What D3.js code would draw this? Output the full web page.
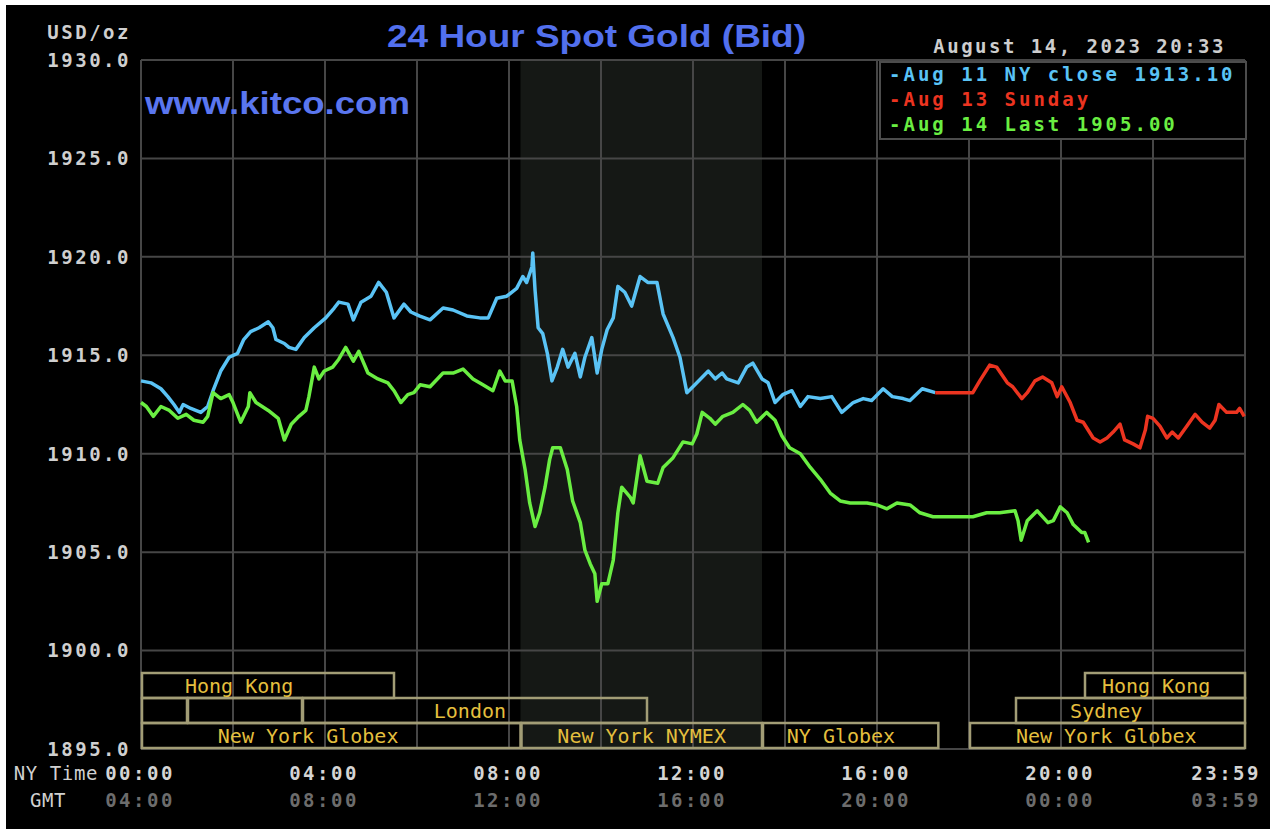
<!DOCTYPE html>
<html><head><meta charset="utf-8">
<script src="https://cdn.jsdelivr.net/npm/d3@7"></script>
<style>html,body{margin:0;padding:0;background:#fff;}svg{display:block;}</style>
</head><body><svg id="c" width="1276" height="838"></svg>
<script>
// ---------- data ----------
const yTicks = [1895, 1900, 1905, 1910, 1915, 1920, 1925, 1930];
const xGridMinutes = [0, 120, 240, 360, 480, 600, 720, 840, 960, 1080, 1200, 1320, 1440];
const labelMinutes = [0, 240, 480, 720, 960, 1200, 1439];
const nyTimeLabels = ["00:00", "04:00", "08:00", "12:00", "16:00", "20:00", "23:59"];
const gmtLabels = ["04:00", "08:00", "12:00", "16:00", "20:00", "00:00", "03:59"];

// [minutes since NY midnight, USD/oz]
const aug11 = [[0,1913.7],[13,1913.6],[26,1913.3],[35,1912.9],[43,1912.5],[50,1912.1],[55,1912.5],[65,1912.3],[78,1912.1],[87,1912.4],[94,1913.2],[104,1914.2],[115,1914.9],[126,1915.1],[134,1915.8],[143,1916.2],[154,1916.4],[166,1916.7],[172,1916.4],[176,1915.8],[187,1915.6],[193,1915.4],[202,1915.3],[213,1915.9],[226,1916.4],[241,1916.9],[252,1917.4],[258,1917.7],[270,1917.6],[277,1916.8],[287,1917.7],[300,1918.0],[310,1918.7],[320,1918.2],[330,1916.9],[343,1917.6],[352,1917.2],[363,1917.0],[377,1916.8],[394,1917.4],[407,1917.3],[425,1917.0],[442,1916.9],[453,1916.9],[464,1917.9],[477,1918.0],[490,1918.4],[498,1919.0],[503,1918.7],[510,1919.5],[511,1920.2],[514,1918.3],[518,1916.4],[524,1916.1],[530,1915.1],[536,1913.7],[543,1914.4],[550,1915.3],[557,1914.4],[566,1915.1],[573,1913.9],[579,1914.9],[588,1915.9],[595,1914.1],[601,1915.3],[608,1916.3],[616,1916.9],[622,1918.5],[631,1918.2],[640,1917.5],[651,1919.0],[661,1918.7],[673,1918.7],[681,1917.1],[694,1915.9],[703,1914.9],[712,1913.1],[725,1913.6],[740,1914.2],[749,1913.8],[758,1914.1],[764,1913.8],[779,1913.6],[790,1914.4],[798,1914.6],[810,1913.8],[818,1913.6],[827,1912.6],[837,1913.0],[849,1913.2],[860,1912.4],[870,1912.9],[886,1912.8],[901,1912.9],[914,1912.1],[929,1912.6],[942,1912.8],[953,1912.7],[968,1913.3],[980,1912.9],[994,1912.8],[1003,1912.7],[1019,1913.3],[1036,1913.1]];

const aug13 = [[1036,1913.1],[1085,1913.1],[1094,1913.7],[1107,1914.5],[1116,1914.4],[1130,1913.6],[1137,1913.4],[1149,1912.8],[1156,1913.1],[1166,1913.7],[1176,1913.9],[1188,1913.6],[1195,1912.9],[1201,1913.4],[1212,1912.6],[1221,1911.7],[1229,1911.6],[1242,1910.8],[1251,1910.6],[1260,1910.8],[1268,1911.1],[1277,1911.5],[1283,1910.7],[1294,1910.5],[1303,1910.3],[1310,1911.2],[1313,1911.9],[1320,1911.8],[1329,1911.4],[1338,1910.8],[1345,1911.1],[1353,1910.8],[1364,1911.4],[1375,1912.0],[1384,1911.6],[1394,1911.3],[1401,1911.7],[1406,1912.5],[1416,1912.1],[1429,1912.1],[1433,1912.3],[1439,1911.9]];

const aug14 = [[0,1912.6],[7,1912.4],[16,1911.9],[26,1912.4],[37,1912.2],[48,1911.8],[59,1912.0],[69,1911.7],[81,1911.6],[87,1911.9],[94,1913.1],[104,1912.8],[115,1913.0],[120,1912.6],[130,1911.6],[140,1912.4],[142,1913.1],[150,1912.6],[166,1912.2],[179,1911.8],[187,1910.7],[196,1911.5],[206,1911.9],[215,1912.2],[219,1912.9],[226,1914.4],[232,1913.8],[239,1914.2],[250,1914.4],[258,1914.8],[267,1915.4],[277,1914.7],[284,1915.2],[296,1914.1],[309,1913.8],[322,1913.6],[330,1913.2],[339,1912.6],[348,1913.0],[356,1913.1],[364,1913.5],[377,1913.4],[394,1914.1],[407,1914.1],[420,1914.3],[433,1913.8],[446,1913.5],[459,1913.2],[468,1914.2],[475,1913.7],[484,1913.7],[490,1912.4],[494,1910.7],[501,1909.2],[507,1907.5],[514,1906.3],[520,1907.0],[527,1908.3],[533,1909.7],[537,1910.3],[547,1910.3],[556,1909.2],[563,1907.6],[573,1906.5],[579,1905.1],[586,1904.4],[592,1903.9],[595,1902.5],[601,1903.4],[609,1903.4],[616,1904.6],[622,1907.0],[627,1908.3],[638,1907.8],[642,1907.5],[651,1909.9],[660,1908.6],[674,1908.5],[681,1909.3],[694,1909.8],[707,1910.6],[719,1910.5],[725,1911.0],[732,1912.1],[742,1911.8],[749,1911.5],[759,1911.9],[772,1912.1],[785,1912.5],[794,1912.2],[803,1911.6],[816,1912.1],[827,1911.7],[836,1910.9],[846,1910.3],[860,1910.0],[873,1909.3],[886,1908.7],[899,1908.0],[912,1907.6],[925,1907.5],[947,1907.5],[960,1907.4],[973,1907.2],[986,1907.5],[1003,1907.4],[1016,1907.0],[1033,1906.8],[1085,1906.8],[1103,1907.0],[1120,1907.0],[1140,1907.1],[1144,1906.6],[1148,1905.6],[1156,1906.6],[1169,1907.1],[1183,1906.5],[1190,1906.6],[1199,1907.3],[1208,1907.0],[1216,1906.4],[1227,1906.0],[1231,1906.0],[1236,1905.5]];

const legendLabels = ["Aug 11 NY close 1913.10", "Aug 13 Sunday", "Aug 14 Last 1905.00"];
const nymexSession = [495, 810];
// session boxes: row, start minute, end minute, label, label centre minute
const sessionRows = [0, 0, 1, 1, 1, 1, 2, 2, 2, 2];
const sessionStarts = [0, 1230, 0, 60, 210, 1140, 0, 495, 810, 1080];
const sessionEnds = [330, 1440, 60, 210, 660, 1440, 495, 810, 1040, 1440];
const sessionLabels = ["Hong Kong", "Hong Kong", "", "", "London", "Sydney", "New York Globex", "New York NYMEX", "NY Globex", "New York Globex"];
const sessionLabelAt = [128, 1324, 0, 0, 429, 1259, 218, 653, 913, 1259];

// ---------- drawing ----------
const svg = d3.select("#c");
const MONO = "'DejaVu Sans Mono', 'Liberation Mono', monospace";
const SANS = "'Liberation Sans', Arial, sans-serif";
const x = d3.scaleLinear().domain([0, 1440]).range([141, 1245]);
const y = d3.scaleLinear().domain([1895, 1930]).range([749, 60]);

svg.append("rect").attr("x", 6).attr("y", 5).attr("width", 1264).attr("height", 824).attr("fill", "#000");

// NYMEX shading
svg.append("rect").attr("x", x(nymexSession[0])).attr("y", y(1930))
  .attr("width", x(nymexSession[1]) - x(nymexSession[0])).attr("height", y(1895) - y(1930))
  .attr("fill", "#151815");

// grid
const grid = svg.append("g").attr("stroke", "#464646").attr("stroke-width", 2);
grid.selectAll("line.h").data(yTicks).join("line").attr("class", "h")
  .attr("x1", x(0)).attr("x2", x(1440)).attr("y1", d => y(d)).attr("y2", d => y(d));
grid.selectAll("line.v").data(xGridMinutes).join("line").attr("class", "v")
  .attr("x1", d => x(d)).attr("x2", d => x(d)).attr("y1", y(1930)).attr("y2", y(1895));

// y labels
svg.append("g").selectAll("text").data(yTicks).join("text")
  .attr("x", 131).attr("y", d => y(d)).attr("dy", "0.36em").attr("text-anchor", "end")
  .attr("font-family", MONO).attr("font-weight", "bold").attr("font-size", 19)
  .attr("letter-spacing", 2.5).attr("fill", "#cfcfcf")
  .text(d => d3.format(".1f")(d));
svg.append("text").attr("x", 131).attr("y", 32).attr("dy", "0.36em").attr("text-anchor", "end")
  .attr("font-family", MONO).attr("font-weight", "bold").attr("font-size", 19)
  .attr("letter-spacing", 2.5).attr("fill", "#cfcfcf").text("USD/oz");

// x labels
const xl = svg.append("g").attr("font-family", MONO).attr("font-weight", "bold").attr("font-size", 19).attr("letter-spacing", 2.5);
xl.selectAll("text.ny").data(nyTimeLabels).join("text").attr("class", "ny")
  .attr("x", (d, i) => i === nyTimeLabels.length - 1 ? 1261 : x(labelMinutes[i]) - 1)
  .attr("text-anchor", (d, i) => i === nyTimeLabels.length - 1 ? "end" : "middle")
  .attr("y", 773).attr("dy", "0.36em").attr("fill", "#d4d4d4").text(d => d);
xl.selectAll("text.gmt").data(gmtLabels).join("text").attr("class", "gmt")
  .attr("x", (d, i) => i === gmtLabels.length - 1 ? 1261 : x(labelMinutes[i]) - 1)
  .attr("text-anchor", (d, i) => i === gmtLabels.length - 1 ? "end" : "middle")
  .attr("y", 800).attr("dy", "0.36em").attr("fill", "#6c6c6c").text(d => d);
svg.append("text").attr("x", 98).attr("y", 773).attr("dy", "0.36em").attr("text-anchor", "end")
  .attr("font-family", MONO).attr("font-size", 19).attr("letter-spacing", 0.6).attr("fill", "#d0d0d0").text("NY Time");
svg.append("text").attr("x", 48).attr("y", 800).attr("dy", "0.36em").attr("text-anchor", "middle")
  .attr("font-family", MONO).attr("font-size", 19).attr("letter-spacing", 0.6).attr("fill", "#d0d0d0").text("GMT");

// session boxes
const rowTop = [673, 698, 723], rowH = 25;
const sb = svg.append("g");
sb.selectAll("rect").data(sessionStarts).join("rect")
  .attr("x", (d) => x(d) + 1).attr("y", (d, i) => rowTop[sessionRows[i]])
  .attr("width", (d, i) => x(sessionEnds[i]) - x(d) - 1).attr("height", rowH)
  .attr("fill", "none").attr("stroke", "#a29d76").attr("stroke-width", 2.5);
sb.selectAll("text").data(sessionLabels).join("text")
  .attr("x", (d, i) => x(sessionLabelAt[i])).attr("y", (d, i) => rowTop[sessionRows[i]] + rowH / 2)
  .attr("dy", "0.36em").attr("text-anchor", "middle")
  .attr("font-family", MONO).attr("font-size", 20).attr("fill", "#e4bf3e").text(d => d);

// lines
const line = d3.line().x(d => x(d[0])).y(d => y(d[1]));
const seriesData = [aug11, aug14, aug13];
const seriesColors = ["#5ac3f5", "#6aee42", "#ec3420"];
svg.append("g").selectAll("path").data(seriesData).join("path")
  .attr("d", line).attr("fill", "none").attr("stroke", (d, i) => seriesColors[i])
  .attr("stroke-width", 3.5).attr("stroke-linejoin", "round");

// title and watermark
svg.append("text").attr("x", 387).attr("y", 47).attr("textLength", 419).attr("lengthAdjust", "spacingAndGlyphs")
  .attr("font-family", SANS).attr("font-weight", "bold").attr("font-size", 32).attr("fill", "#5270ee")
  .text("24 Hour Spot Gold (Bid)");
svg.append("text").attr("x", 145).attr("y", 114).attr("textLength", 265).attr("lengthAdjust", "spacingAndGlyphs")
  .attr("font-family", SANS).attr("font-weight", "bold").attr("font-size", 32).attr("fill", "#5a76ef")
  .text("www.kitco.com");

// date
svg.append("text").attr("x", 1226).attr("y", 46).attr("dy", "0.36em").attr("text-anchor", "end")
  .attr("font-family", MONO).attr("font-weight", "bold").attr("font-size", 19).attr("letter-spacing", 2.5)
  .attr("fill", "#cdcdcd").text("August 14, 2023 20:33");

// legend
svg.append("rect").attr("x", 880).attr("y", 62).attr("width", 366).attr("height", 77)
  .attr("fill", "#000").attr("stroke", "#4c4c4c").attr("stroke-width", 2);
const legendColors = ["#5ac3f5", "#ec3420", "#6aee42"];
svg.append("g").selectAll("text").data(legendLabels).join("text")
  .attr("x", 889).attr("y", (d, i) => 74 + i * 25).attr("dy", "0.36em")
  .attr("font-family", MONO).attr("font-weight", "bold").attr("font-size", 19).attr("letter-spacing", 3)
  .attr("fill", (d, i) => legendColors[i]).text(d => "-" + d);
</script></body></html>
